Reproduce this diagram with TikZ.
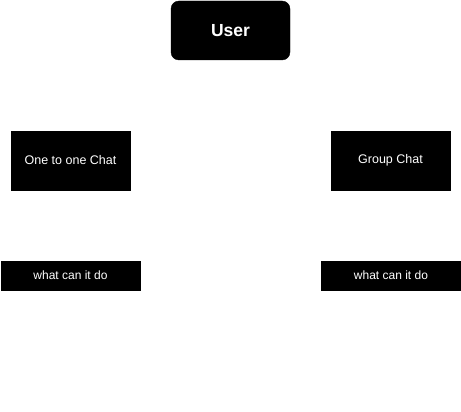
\documentclass[tikz,border=0pt]{standalone}
\usepackage{fontspec}
\setmainfont{Liberation Sans}
\begin{document}
\begin{tikzpicture}[x=1pt,y=-1pt,
  box/.style={fill=black,draw=black,text=white,inner sep=0pt,anchor=center},
  userbox/.style={box,rounded corners=8pt,minimum width=119pt,minimum height=59pt,font=\fontsize{17.5}{20}\selectfont\bfseries},
  chatbox/.style={box,minimum width=119pt,minimum height=59pt,font=\fontsize{12.5}{15}\selectfont},
  whatbox/.style={box,minimum width=139.5pt,minimum height=29pt,font=\fontsize{12}{14}\selectfont}]
\useasboundingbox (0,0) rectangle (461,412);
\fill[white] (0,0) rectangle (461,412);
\node[userbox] (user) at (230.5,30.5) {User};
\node[chatbox] (one) at (70.5,160.5) {One to one Chat};
\node[chatbox] (group) at (390.5,160.5) {Group Chat};
\node[whatbox] (what1) at (70.5,275.5) {what can it do};
\node[whatbox] (what2) at (391,275.5) {what can it do};
\end{tikzpicture}
\end{document}
